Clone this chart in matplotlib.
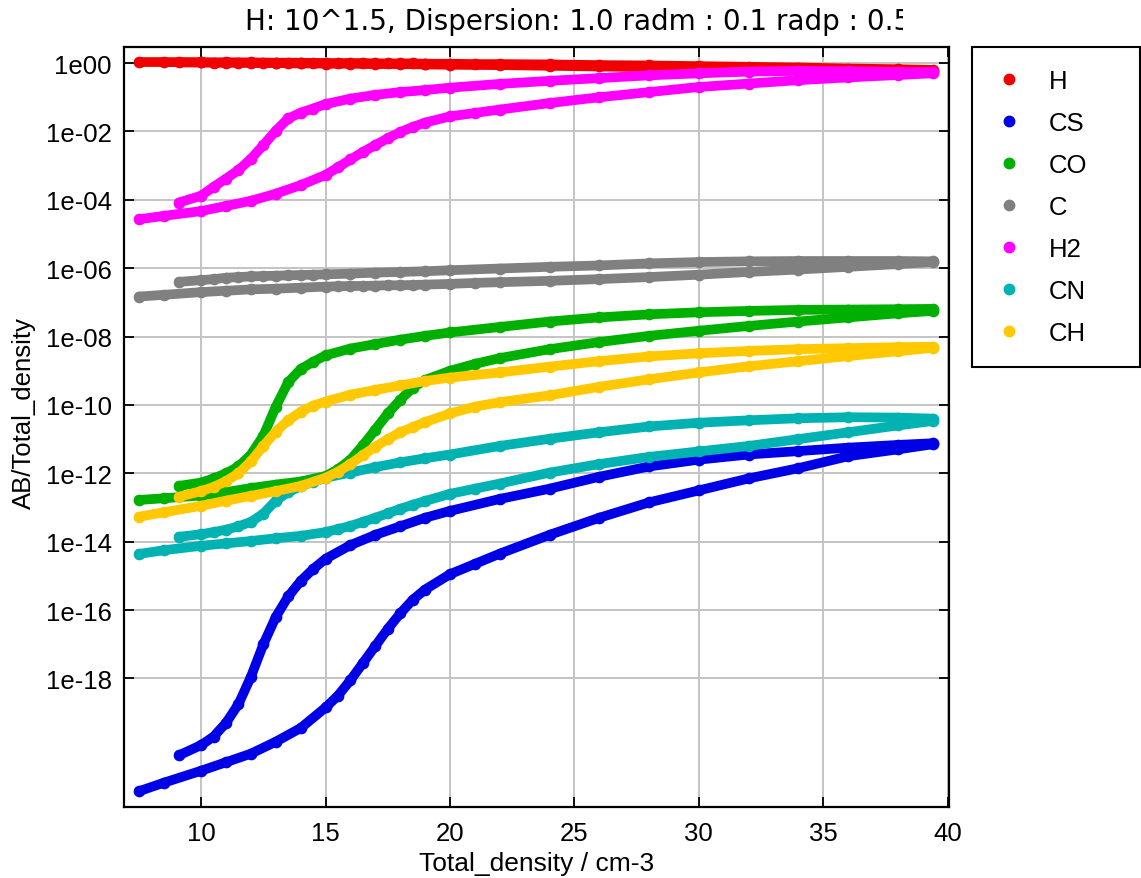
import matplotlib
matplotlib.use('Agg')
import matplotlib.pyplot as plt
from matplotlib.lines import Line2D
from matplotlib.transforms import Bbox
import numpy as np

plt.rcParams['font.family'] = ['Liberation Sans', 'DejaVu Sans']

# total density on the two branches of the run
x_low = [7.5, 8.5, 10, 11, 12, 13, 14, 15, 15.5, 16, 16.5, 17, 17.5, 18, 18.5, 19,
         20, 21, 22, 24, 26, 28, 30, 32, 34, 36, 38, 39.4]
x_up = [9.1, 10, 10.5, 11, 11.5, 12, 12.5, 13, 13.5, 14, 14.5, 15, 16, 17, 18, 19,
        20, 22, 24, 26, 28, 30, 32, 34, 36, 38, 39.4]

# log10(AB/Total_density)
h_low = [0.03, 0.03, 0.02, 0.02, 0.02, 0.01, 0.01, 0.0, 0.0, 0.0, 0.0, -0.01, -0.01, -0.01, -0.01, -0.02,
         -0.02, -0.03, -0.03, -0.04, -0.06, -0.07, -0.09, -0.11, -0.13, -0.16, -0.18, -0.2]
h_up = [0.02, 0.02, 0.01, 0.01, 0.01, 0.0, 0.0, 0.0, -0.01, -0.01, -0.01, -0.02, -0.02, -0.03, -0.03, -0.04,
        -0.05, -0.06, -0.08, -0.1, -0.12, -0.14, -0.16, -0.18, -0.2, -0.21, -0.22]

cs_low = [-21.3, -21.05, -20.7, -20.45, -20.2, -19.85, -19.45, -18.85, -18.5, -18.05, -17.55, -17.05,
          -16.55, -16.1, -15.7, -15.4, -14.95, -14.65, -14.35, -13.8, -13.3, -12.85, -12.5, -12.15,
          -11.85, -11.5, -11.3, -11.15]
cs_up = [-20.25, -19.95, -19.7, -19.3, -18.75, -17.95, -17.0, -16.2, -15.6, -15.15, -14.8, -14.5,
         -14.1, -13.8, -13.55, -13.3, -13.1, -12.75, -12.45, -12.1, -11.8, -11.6, -11.45, -11.35,
         -11.25, -11.17, -11.12]

co_low = [-12.78, -12.73, -12.65, -12.55, -12.43, -12.33, -12.24, -12.08, -11.88, -11.6, -11.18, -10.72,
          -10.25, -9.85, -9.5, -9.27, -9.0, -8.8, -8.63, -8.37, -8.16, -7.98, -7.83, -7.69,
          -7.56, -7.44, -7.32, -7.25]
co_up = [-12.37, -12.27, -12.15, -12.0, -11.8, -11.45, -10.9, -10.05, -9.33, -8.95, -8.74, -8.55,
         -8.35, -8.22, -8.09, -7.98, -7.88, -7.72, -7.56, -7.44, -7.35, -7.29, -7.25, -7.22,
         -7.21, -7.2, -7.19]

c_low = [-6.83, -6.78, -6.7, -6.66, -6.62, -6.6, -6.57, -6.54, -6.53, -6.52, -6.52, -6.51,
         -6.5, -6.5, -6.49, -6.48, -6.46, -6.43, -6.41, -6.37, -6.32, -6.26, -6.19, -6.11,
         -6.04, -5.96, -5.88, -5.82]
c_up = [-6.4, -6.35, -6.32, -6.28, -6.26, -6.24, -6.23, -6.22, -6.21, -6.2, -6.19, -6.18,
        -6.16, -6.13, -6.11, -6.09, -6.06, -6.01, -5.96, -5.92, -5.86, -5.82, -5.8, -5.79,
        -5.79, -5.79, -5.8]

h2_low = [-4.57, -4.47, -4.33, -4.18, -4.03, -3.82, -3.57, -3.27, -3.05, -2.82, -2.6, -2.4,
          -2.2, -2.02, -1.87, -1.74, -1.56, -1.46, -1.36, -1.17, -1.0, -0.85, -0.7, -0.6,
          -0.5, -0.42, -0.35, -0.3]
h2_up = [-4.08, -3.88, -3.62, -3.38, -3.13, -2.8, -2.4, -1.98, -1.62, -1.45, -1.33, -1.2,
         -1.04, -0.93, -0.85, -0.79, -0.72, -0.61, -0.52, -0.44, -0.36, -0.3, -0.25, -0.23,
         -0.24, -0.26, -0.27]

cn_low = [-14.36, -14.25, -14.12, -14.05, -13.98, -13.9, -13.83, -13.72, -13.63, -13.54, -13.42, -13.3,
          -13.17, -13.04, -12.92, -12.81, -12.6, -12.45, -12.3, -11.98, -11.73, -11.52, -11.36, -11.2,
          -11.0, -10.8, -10.6, -10.47]
cn_up = [-13.86, -13.78, -13.72, -13.65, -13.55, -13.42, -13.18, -12.8, -12.55, -12.38, -12.25, -12.13,
         -11.98, -11.82, -11.68, -11.56, -11.45, -11.2, -10.99, -10.8, -10.63, -10.52, -10.45, -10.39,
         -10.36, -10.37, -10.4]

ch_low = [-13.27, -13.14, -12.95, -12.8, -12.66, -12.52, -12.37, -12.13, -11.95, -11.73, -11.47, -11.22,
          -11.0, -10.8, -10.65, -10.5, -10.25, -10.05, -9.92, -9.72, -9.47, -9.25, -9.05, -8.87,
          -8.72, -8.57, -8.43, -8.33]
ch_up = [-12.69, -12.52, -12.4, -12.23, -12.0, -11.65, -11.2, -10.78, -10.45, -10.2, -10.02, -9.9,
         -9.7, -9.56, -9.43, -9.3, -9.2, -9.05, -8.88, -8.72, -8.58, -8.49, -8.42, -8.37,
         -8.34, -8.31, -8.3]

species = ['H', 'CS', 'CO', 'C', 'H2', 'CN', 'CH']
colors = ['#f00000', '#0000e6', '#00b000', '#808080', '#ff00ff', '#00b2b2', '#ffc800']
branches = [(h_low, h_up), (cs_low, cs_up), (co_low, co_up), (c_low, c_up),
            (h2_low, h2_up), (cn_low, cn_up), (ch_low, ch_up)]

ytick_exp = [0, -2, -4, -6, -8, -10, -12, -14, -16, -18]
ytick_labels = ['1e00', '1e-02', '1e-04', '1e-06', '1e-08', '1e-10', '1e-12', '1e-14', '1e-16', '1e-18']

fig = plt.figure(figsize=(11.41, 8.79), dpi=100)
ax = fig.add_axes([0.1087, 0.0808, 0.7230, 0.8646])

for col, (lo, up) in zip(colors, branches):
    for xs, ys in ((x_low, lo), (x_up, up)):
        ax.plot(xs, 10.0 ** np.array(ys), '-o', color=col, lw=7, ms=7.4,
                solid_joinstyle='round', solid_capstyle='round')

ax.set_yscale('log')
ax.set_xlim(6.9, 40.05)
ax.set_ylim(10 ** -21.76, 10 ** 0.47)
ax.set_xticks([10, 15, 20, 25, 30, 35, 40])
ax.set_yticks([10.0 ** e for e in ytick_exp])
ax.set_yticklabels(ytick_labels)
ax.yaxis.set_minor_locator(matplotlib.ticker.NullLocator())

ax.set_axisbelow(True)
ax.grid(True, color='#c4c4c4', lw=1.4)
ax.tick_params(direction='in', top=True, right=True, length=7, width=1.3, labelsize=18.5)
ax.tick_params(axis='y', pad=9)
ax.tick_params(axis='x', pad=10)
for s in ax.spines.values():
    s.set_linewidth(1.6)

ax.set_xlabel('Total_density / cm-3', fontsize=19)
ax.xaxis.set_label_coords(0.5, -0.058)
ax.set_ylabel('AB/Total_density', fontsize=18.5)
ax.yaxis.set_label_coords(-0.107, 0.52)

title = fig.text(245 / 1141, 1 - 30 / 879, 'H: 10^1.5, Dispersion: 1.0 radm : 0.1 radp : 0.5',
                 ha='left', va='baseline', fontsize=20, family='DejaVu Sans')
title.set_clip_box(Bbox([[0, 0], [903, 879]]))
title.set_clip_on(True)

handles = [Line2D([], [], ls='none', marker='o', ms=7.5, color=c) for c in colors]
leg = fig.legend(handles, species, loc='upper left',
                 bbox_to_anchor=(972 / 1141, 1 - 365 / 879, 168 / 1141, 317 / 879),
                 mode='expand', borderaxespad=0, fontsize=18.5, frameon=True,
                 fancybox=False, framealpha=1, edgecolor='black',
                 borderpad=0.85, labelspacing=0.7, handlelength=1.17, handletextpad=0.97)
leg.get_frame().set_linewidth(1.5)

fig.savefig('out.png', dpi=100)
